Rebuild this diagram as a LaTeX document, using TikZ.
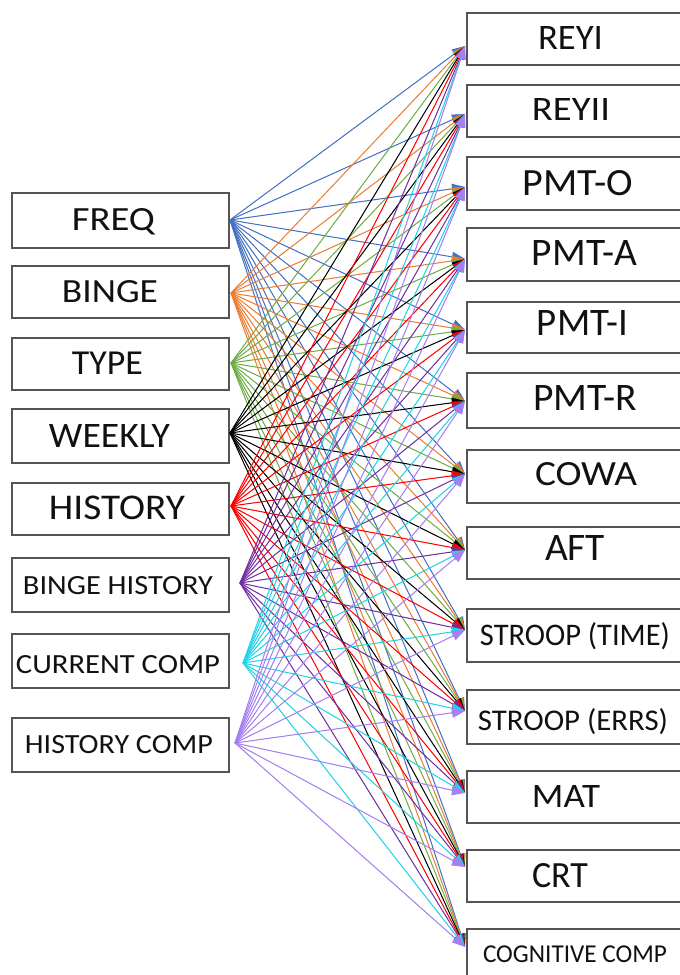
\documentclass[tikz,border=0pt]{standalone}
\usepackage{fontspec}
\setmainfont{Carlito}
\usepackage{graphicx}
\usetikzlibrary{arrows.meta}
\definecolor{boxgray}{HTML}{555555}
\definecolor{txtc}{HTML}{111111}
\definecolor{cfreq}{HTML}{4472C4}
\definecolor{cbinge}{HTML}{ED7D31}
\definecolor{ctype}{HTML}{70AD47}
\definecolor{cweekly}{HTML}{000000}
\definecolor{chist}{HTML}{FF0000}
\definecolor{cbh}{HTML}{7030A0}
\definecolor{ccc}{HTML}{22D3E6}
\definecolor{chc}{HTML}{A67FF0}
\newcommand\fitlbl[3]{\resizebox{#1pt}{#2pt}{#3}}
\tikzset{
  leftbox/.style={draw=boxgray, line width=1.3pt, inner sep=0pt, minimum width=217pt},
  rightbox/.style={draw=boxgray, line width=1.3pt, inner sep=0pt, minimum width=240pt},
  lbl/.style={anchor=base, inner sep=0pt, text=txtc},
  conn/.style={line width=1pt, -{Triangle[length=13pt,width=10pt]}},
}
\begin{document}
\begin{tikzpicture}[x=1pt,y=-1pt]
\useasboundingbox (0,0) rectangle (680,975);
\clip (0,0) rectangle (680,975);
\fill[white] (0,0) rectangle (680,975);
% left boxes
\node[leftbox, minimum height=55pt] (FREQ) at (120.5,220.5) {};
\node[leftbox, minimum height=52pt] (BINGE) at (120.5,292) {};
\node[leftbox, minimum height=52pt] (TYPE) at (120.5,364) {};
\node[leftbox, minimum height=54pt] (WEEKLY) at (120.5,436) {};
\node[leftbox, minimum height=52pt] (HISTORY) at (120.5,509) {};
\node[leftbox, minimum height=54pt] (BH) at (120.5,585) {};
\node[leftbox, minimum height=54pt] (CC) at (120.5,661) {};
\node[leftbox, minimum height=54pt] (HC) at (120.5,745) {};
% left labels
\node[lbl] (lFREQ) at (113.5,230) {\fitlbl{83}{22}{FREQ}};
\node[lbl] (lBINGE) at (110,302) {\fitlbl{96}{22}{BINGE}};
\node[lbl] (lTYPE) at (107.5,374) {\fitlbl{71}{22.5}{TYPE}};
\node[lbl] (lWEEKLY) at (109.5,447) {\fitlbl{121}{23}{WEEKLY}};
\node[lbl] (lHISTORY) at (117,519) {\fitlbl{136}{23.5}{HISTORY}};
\node[lbl] (lBH) at (118,594) {\fitlbl{190}{18}{BINGE HISTORY}};
\node[lbl] (lCC) at (118,673) {\fitlbl{204}{18}{CURRENT COMP}};
\node[lbl] (lHC) at (119,753) {\fitlbl{188}{18}{HISTORY COMP}};
% right boxes
\node[rightbox, minimum height=52pt] (REYI) at (587,39) {};
\node[rightbox, minimum height=52pt] (REYII) at (587,111) {};
\node[rightbox, minimum height=53pt] (PMTO) at (587,183.5) {};
\node[rightbox, minimum height=53pt] (PMTA) at (587,254.5) {};
\node[rightbox, minimum height=51pt] (PMTI) at (587,327.5) {};
\node[rightbox, minimum height=55pt] (PMTR) at (587,400.5) {};
\node[rightbox, minimum height=53pt] (COWA) at (587,476.5) {};
\node[rightbox, minimum height=52pt] (AFT) at (587,553) {};
\node[rightbox, minimum height=53pt] (STT) at (587,635.5) {};
\node[rightbox, minimum height=54pt] (STE) at (587,717) {};
\node[rightbox, minimum height=52pt] (MAT) at (587,797) {};
\node[rightbox, minimum height=52pt] (CRT) at (587,876) {};
\node[rightbox, minimum height=80pt] (COG) at (587,969) {};
% right labels
\node[lbl] (lREYI) at (570.5,49) {\fitlbl{65}{23}{REYI}};
\node[lbl] (lREYII) at (571,120) {\fitlbl{78}{22}{REYII}};
\node[lbl] (lPMTO) at (578,195) {\fitlbl{110}{25}{PMT-O}};
\node[lbl] (lPMTA) at (584.5,265) {\fitlbl{105}{25}{PMT-A}};
\node[lbl] (lPMTI) at (582.5,335) {\fitlbl{91}{25}{PMT-I}};
\node[lbl] (lPMTR) at (585,410) {\fitlbl{104}{25}{PMT-R}};
\node[lbl] (lCOWA) at (586,485) {\fitlbl{102}{23}{COWA}};
\node[lbl] (lAFT) at (575,560) {\fitlbl{60}{25}{AFT}};
\node[lbl] (lSTT) at (575,645) {\fitlbl{190}{23}{STROOP (TIME)}};
\node[lbl] (lSTE) at (573,730) {\fitlbl{190}{22}{STROOP (ERRS)}};
\node[lbl] (lMAT) at (566,807) {\fitlbl{68}{22}{MAT}};
\node[lbl] (lCRT) at (560,887) {\fitlbl{56}{24}{CRT}};
\node[lbl] (lCOG) at (575,962) {\fitlbl{184}{16.7}{COGNITIVE COMP}};
% source points
\coordinate (sFREQ) at (230,220);
\coordinate (sBINGE) at (231,293);
\coordinate (sTYPE) at (231,363);
\coordinate (sWEEKLY) at (230,433);
\coordinate (sHISTORY) at (231,506);
\coordinate (sBH) at (240,583);
\coordinate (sCC) at (243,663);
\coordinate (sHC) at (235,743);
% target points
\coordinate (eREYI) at (465,46);
\coordinate (eREYII) at (465,114);
\coordinate (ePMTO) at (465,187);
\coordinate (ePMTA) at (465,259);
\coordinate (ePMTI) at (465,330);
\coordinate (ePMTR) at (465,401);
\coordinate (eCOWA) at (465,474);
\coordinate (eAFT) at (465,550);
\coordinate (eSTT) at (465,630);
\coordinate (eSTE) at (465,711);
\coordinate (eMAT) at (465,793);
\coordinate (eCRT) at (465,867);
\coordinate (eCOG) at (465,947);
% connectors
\foreach \s/\c in {sFREQ/cfreq, sBINGE/cbinge, sTYPE/ctype, sWEEKLY/cweekly, sHISTORY/chist, sBH/cbh, sCC/ccc, sHC/chc}{
  \foreach \t in {eREYI,eREYII,ePMTO,ePMTA,ePMTI,ePMTR,eCOWA,eAFT,eSTT,eSTE,eMAT,eCRT,eCOG}{
    \draw[conn, draw=\c, fill=\c] (\s) -- (\t);
  }
}
\end{tikzpicture}
\end{document}
